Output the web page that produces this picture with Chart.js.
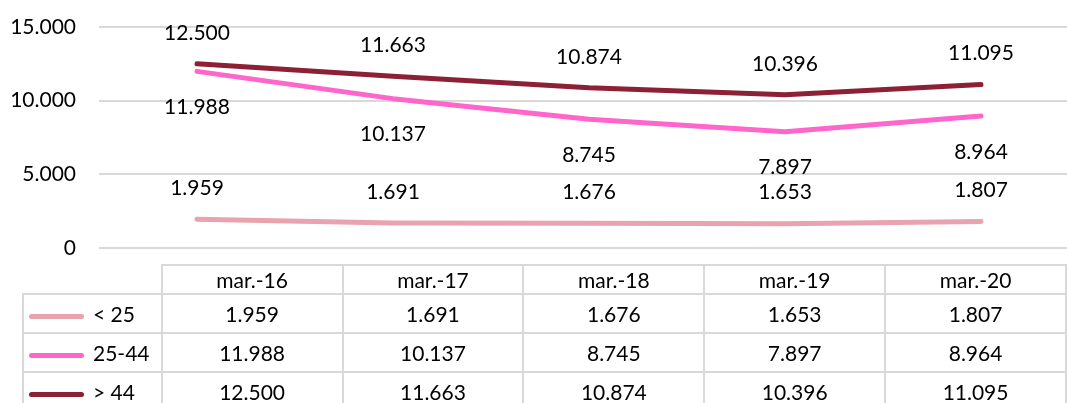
<!DOCTYPE html>
<html>
<head>
<meta charset="utf-8">
<script src="https://cdn.jsdelivr.net/npm/chart.js@4"></script>
<style>
  html, body { margin: 0; padding: 0; background: #fff; }
  body { width: 1067px; height: 403px; overflow: hidden; position: relative; font-family: Lato, sans-serif; }
  #myChart { position: absolute; left: 0; top: 0; }
  #dataTable {
    position: absolute; left: 22px; top: 264px;
    border-collapse: collapse; table-layout: fixed;
    font-size: 21px; color: #000;
  }
  #dataTable td { border: 2px solid #d9d9d9; text-align: center; padding: 0; height: 37px; white-space: nowrap; }
  #dataTable tr.head td { height: 27px; }
  #dataTable td.corner { border: none; }
  #dataTable td.key { text-align: left; padding-left: 5px; }
  .swatch { display: inline-block; width: 55px; height: 5px; border-radius: 3px; vertical-align: middle; margin-right: 9px; }
</style>
</head>
<body>
<canvas id="myChart" width="1081" height="275"></canvas>
<table id="dataTable"></table>
<script>
let categories = ['mar.-16', 'mar.-17', 'mar.-18', 'mar.-19', 'mar.-20'];
let seriesNames = ['< 25', '25-44', '> 44'];
let under25 = [1959, 1691, 1676, 1653, 1807];
let from25to44 = [11988, 10137, 8745, 7897, 8964];
let over44 = [12500, 11663, 10874, 10396, 11095];
let colors = ['#e8a3af', '#ff66cc', '#8c2035'];
let yTicks = [0, 5000, 10000, 15000];

function fmt(v) {
    return String(v).replace(/\B(?=(\d{3})+(?!\d))/g, '.');
}

// value labels drawn at the points the chart computed
let valueLabels = {
    id: 'valueLabels',
    afterDatasetsDraw(chart) {
        let ctx = chart.ctx;
        ctx.save();
        ctx.font = '21px Lato';
        ctx.fillStyle = '#000';
        ctx.textAlign = 'center';
        ctx.textBaseline = 'middle';
        chart.data.datasets.forEach((ds, i) => {
            chart.getDatasetMeta(i).data.forEach((pt, j) => {
                let dy = ds.labelPos === 'below' ? 36 : -31;
                ctx.fillText(fmt(ds.data[j]), pt.x, pt.y + dy);
            });
        });
        ctx.restore();
    }
};

let allSeries = [under25, from25to44, over44];
let labelPos = ['above', 'below', 'above'];

let myChart = document.getElementById('myChart').getContext('2d');
let chart = new Chart(myChart, {
    type: 'line',
    data: {
        labels: categories,
        datasets: allSeries.map((d, i) => ({
            label: seriesNames[i],
            data: d,
            borderColor: colors[i],
            backgroundColor: colors[i],
            borderWidth: 5,
            borderCapStyle: 'round',
            borderJoinStyle: 'round',
            pointRadius: 0,
            tension: 0,
            labelPos: labelPos[i],
            order: 2 - i
        }))
    },
    options: {
        responsive: false,
        animation: false,
        devicePixelRatio: 1,
        layout: { padding: { top: 27, bottom: 27, left: 0, right: 2 } },
        plugins: { legend: { display: false }, tooltip: { enabled: false } },
        scales: {
            x: { display: false, offset: true },
            y: {
                min: 0, max: 15000,
                afterBuildTicks: s => { s.ticks = yTicks.map(v => ({ value: v })); },
                afterFit: s => { s.width = 99; s.paddingTop = 0; s.paddingBottom = 0; },
                border: { display: false },
                grid: { color: '#d9d9d9', lineWidth: 2, drawTicks: false },
                ticks: { padding: 23, color: '#000', font: { family: 'Lato', size: 21 }, callback: v => fmt(v) }
            }
        }
    },
    plugins: [valueLabels]
});

// data table under the chart
let table = document.getElementById('dataTable');
let colgroup = '<colgroup><col style="width:139px">' + categories.map(() => '<col style="width:184px">').join('') + '</colgroup>';
let html = colgroup + '<tr class="head"><td class="corner"></td>' + categories.map(c => '<td>' + c + '</td>').join('') + '</tr>';
allSeries.forEach((d, i) => {
    html += '<tr><td class="key"><span class="swatch" style="background:' + colors[i] + '"></span>' + seriesNames[i] + '</td>' +
        d.map(v => '<td>' + fmt(v) + '</td>').join('') + '</tr>';
});
table.innerHTML = html;
</script>
</body>
</html>
